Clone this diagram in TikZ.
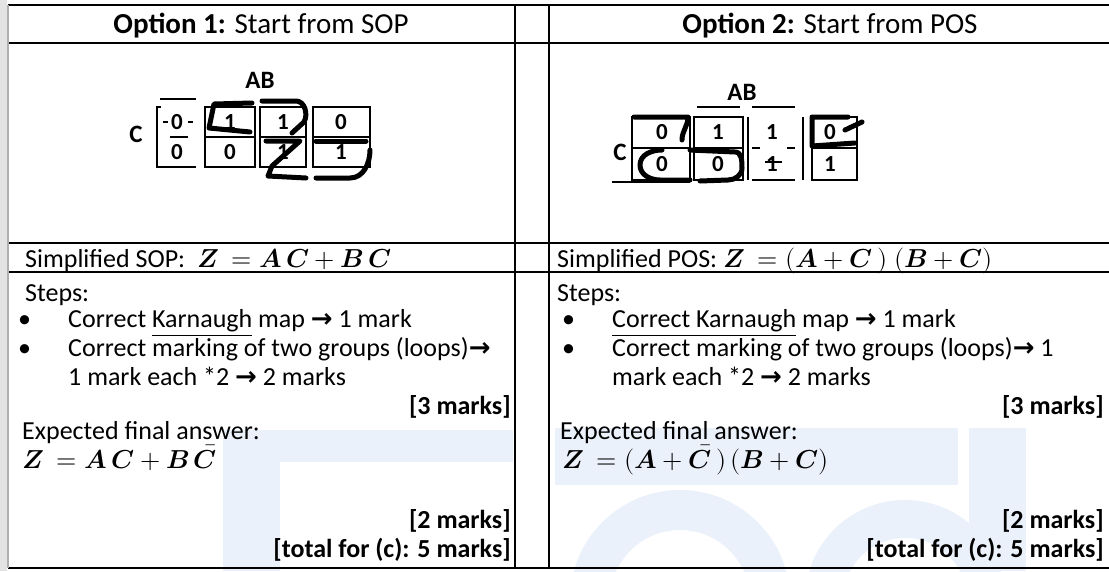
\documentclass[tikz,border=0pt]{standalone}
\usepackage{fontspec}
\usepackage{unicode-math}
\setmainfont{Carlito}
\setmathfont{Latin Modern Math}
\newfontfamily\arrowfont{DejaVu Sans}
\newcommand{\gives}{{\arrowfont\bfseries →}}
\newcommand{\mv}[1]{\symbfit{#1}}
\definecolor{wmblue}{RGB}{235,241,250}
\definecolor{edgegray}{RGB}{175,175,175}
\usetikzlibrary{positioning, calc}
\tikzset{
	rule/.style={line width=2.2pt, draw=black},
	headtext/.style={font=\fontsize{29}{35}\selectfont, anchor=base, inner sep=0pt},
	bodytext/.style={font=\fontsize{26}{31}\selectfont, anchor=base west, inner sep=0pt},
	marktext/.style={font=\fontsize{26}{31}\selectfont\bfseries, anchor=base east, inner sep=0pt},
	maplabel/.style={font=\fontsize{25}{29}\selectfont\bfseries, inner sep=0pt},
	cellval/.style={font=\fontsize{23}{27}\selectfont\bfseries, inner sep=0pt},
	kbox/.style={line width=2pt, draw=black},
	ringline/.style={line width=5pt, line cap=round, line join=round},
	watermark/.style={fill=wmblue, draw=none},
}

\begin{document}
\begin{tikzpicture}[x=1pt, y=-1pt]
	\useasboundingbox (0,0) rectangle (1109,571);
	\fill[white] (0,0) rectangle (1109,571);
	% faint watermark behind the answers
	\fill[watermark] (223,430) rectangle (513,462);
	\fill[watermark] (223,462) rectangle (280,571);
	\fill[watermark] (555,428) rectangle (958,485);
	\fill[watermark] (969,428) rectangle (1026,571);
	\fill[watermark, even odd rule] (680,600) circle[radius=110] (680,600) circle[radius=70];
	\fill[watermark, even odd rule] (905,600) circle[radius=100] (905,600) circle[radius=62];
	\fill[edgegray!35] (0,0) rectangle (7,571);

	% table rules
	\draw[rule] (8,5) -- (1109,5);
	\draw[rule] (8,43) -- (1109,43);
	\draw[rule] (8,243) -- (1109,243);
	\draw[rule] (8,272) -- (1109,272);
	\draw[rule] (8,568) -- (1109,568);
	\draw[rule, draw=edgegray] (8,5) -- (8,568);
	\draw[rule] (515,5) -- (515,568);
	\draw[rule] (549,5) -- (549,568);

	% headers
	\node[headtext] (head1) at (261,33) {\textbf{Option 1:} Start from SOP};
	\node[headtext] (head2) at (830,33) {\textbf{Option 2:} Start from POS};

	% Karnaugh map, option 1
	\node[maplabel] (ab1) at (260,80) {AB};
	\node[maplabel] (c1) at (136,134) {C};
	\draw[kbox] (161,107) -- (157,107) -- (157,167) -- (161,167);
	\draw[kbox] (160,99) -- (196,99) (163,122) -- (168,122) (188,122) -- (193,122)
		(170,137) -- (188,137) (160,167) -- (196,167);
	\foreach \xa/\xb in {205/255, 260/306, 313/370}
		\draw[kbox] (\xa,107) rectangle (\xb,167) (\xa,137) -- (\xb,137);
	\foreach \xc/\va/\vb [count=\i] in {177/0/0, 230/1/0, 283/1/1, 341/0/1} {
		\node[cellval] (sopt\i) at (\xc,122) {\va};
		\node[cellval] (sopb\i) at (\xc,152) {\vb};
	}
	% loops drawn by hand
	\draw[ringline] (252,103) -- (214,104) -- (209,128) -- (250,132);
	\draw[ringline] (262,101) -- (296,101) to[out=0, in=60] (304,122) -- (292,133);
	\draw[ringline] (266,141) -- (300,141) -- (272,166) -- (268,176) -- (306,178);
	\draw[ringline] (316,141) -- (366,141);
	\draw[ringline] (316,178) -- (350,178) to[out=0, in=-90] (370,150);

	% Karnaugh map, option 2
	\node[maplabel] (ab2) at (742,92) {AB};
	\node[maplabel] (c2) at (620,152) {C};
	\draw[kbox] (612,182) -- (690,182);
	\draw[kbox] (632,117) rectangle (690,180) (632,148) -- (690,148);
	\draw[kbox] (694,117) rectangle (743,180) (694,148) -- (743,148);
	\draw[kbox] (697,107) -- (740,107) (752,107) -- (795,107)
		(752,148) -- (760,148) (787,148) -- (795,148) (765,162) -- (782,162)
		(752,180) -- (795,180);
	\draw[kbox] (748,117) -- (748,180) (803,117) -- (803,180);
	\draw[kbox] (812,117) rectangle (857,180) (812,148) -- (857,148);
	\foreach \xc/\va/\vb [count=\i] in {662/0/0, 718/1/0, 772/1/1, 830/0/1} {
		\node[cellval] (post\i) at (\xc,132) {\va};
		\node[cellval] (posb\i) at (\xc,164) {\vb};
	}
	% loops drawn by hand
	\draw[ringline] (634,117) -- (688,117) to[out=-90, in=90] (682,140);
	\draw[ringline] (662,150) to[out=180, in=90] (640,165) to[out=-90, in=180] (660,180) -- (690,180);
	\draw[ringline] (690,150) -- (735,152) to[out=0, in=90] (742,168) to[out=-90, in=0] (728,180) -- (700,181);
	\draw[ringline] (812,117) -- (848,117) (812,117) -- (812,146) -- (855,143) (845,130) -- (862,122);

	% option 1 answer
	\node[bodytext] (simp1) at (25,267) {Simplified SOP:\ \ $\mv{Z}\ = \mv{A}\,\mv{C} + \mv{B}\,\mv{C}$};
	\node[bodytext] (steps1) at (25,301) {Steps:};
	\node[bodytext] (dot1a) at (18,327) {•};
	\node[bodytext] (dot1b) at (18,356) {•};
	\node[bodytext] (st1a) at (68,327) {Correct \underline{Karnaugh} map \gives{} 1 mark};
	\node[bodytext] (st1b) at (68,356) {Correct marking of two groups (loops)\gives};
	\node[bodytext] (st1c) at (68,385) {1 mark each *2 \gives{} 2 marks};
	\node[marktext] (mk1a) at (511,414) {[3 marks]};
	\node[bodytext] (exp1) at (22,439) {Expected final answer:};
	\node[bodytext] (ans1) at (22,468) {$\mv{Z}\ = \mv{A}\,\mv{C} + \mv{B}\,\bar{\mv{C}}$};
	\node[marktext] (mk1b) at (511,528) {[2 marks]};
	\node[marktext] (tot1) at (511,557) {[total for (c): 5 marks]};

	% option 2 answer
	\node[bodytext] (simp2) at (557,267) {Simplified POS: $\mv{Z}\ = (\mv{A} + \mv{C}\,)\;(\mv{B} + \mv{C})$};
	\node[bodytext] (steps2) at (557,301) {Steps:};
	\node[bodytext] (dot2a) at (562,327) {•};
	\node[bodytext] (dot2b) at (562,356) {•};
	\node[bodytext] (st2a) at (612,327) {\underline{Correct Karnaugh} map \gives{} 1 mark};
	\node[bodytext] (st2b) at (612,356) {Correct marking of two groups (loops)\gives{} 1};
	\node[bodytext] (st2c) at (612,385) {mark each *2 \gives{} 2 marks};
	\node[marktext] (mk2a) at (1104,414) {[3 marks]};
	\node[bodytext] (exp2) at (560,439) {Expected final answer:};
	\node[bodytext] (ans2) at (562,468) {$\mv{Z}\ = (\mv{A} + \bar{\mv{C}}\,)\,(\mv{B} + \mv{C})$};
	\node[marktext] (mk2b) at (1104,528) {[2 marks]};
	\node[marktext] (tot2) at (1104,557) {[total for (c): 5 marks]};
\end{tikzpicture}
\end{document}
